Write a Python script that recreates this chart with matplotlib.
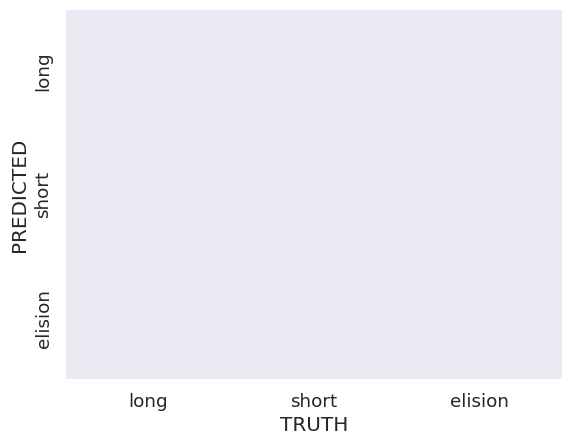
import numpy as np
import matplotlib
matplotlib.use("Agg")
import matplotlib.pyplot as plt
import seaborn as sns

truth_labels = ["long", "short", "elision"]
predicted_labels = ["long", "short", "elision"]
# Confusion matrix shows no coloured cells: all values are missing
cm_values = [[np.nan, np.nan, np.nan],
             [np.nan, np.nan, np.nan],
             [np.nan, np.nan, np.nan]]

sns.set_theme(style="darkgrid", font_scale=1.2)
plt.rcParams['font.family'] = ['DejaVu Sans']

fig, ax = plt.subplots(figsize=(6.4, 4.8), dpi=100)
data = np.ma.masked_invalid(np.array(cm_values, dtype=float))
ax.pcolormesh(data, cmap="Blues")
ax.set_xlim(0, len(truth_labels))
ax.set_ylim(len(predicted_labels), 0)
ax.grid(False)
ax.set_xticks(np.arange(len(truth_labels)) + 0.5)
ax.set_xticklabels(truth_labels)
ax.set_yticks(np.arange(len(predicted_labels)) + 0.5)
ax.set_yticklabels(predicted_labels, rotation=90, va="center")
ax.set_xlabel("TRUTH")
ax.set_ylabel("PREDICTED")
for s in ax.spines.values():
    s.set_visible(False)

fig.savefig("out.png", bbox_inches="tight")
